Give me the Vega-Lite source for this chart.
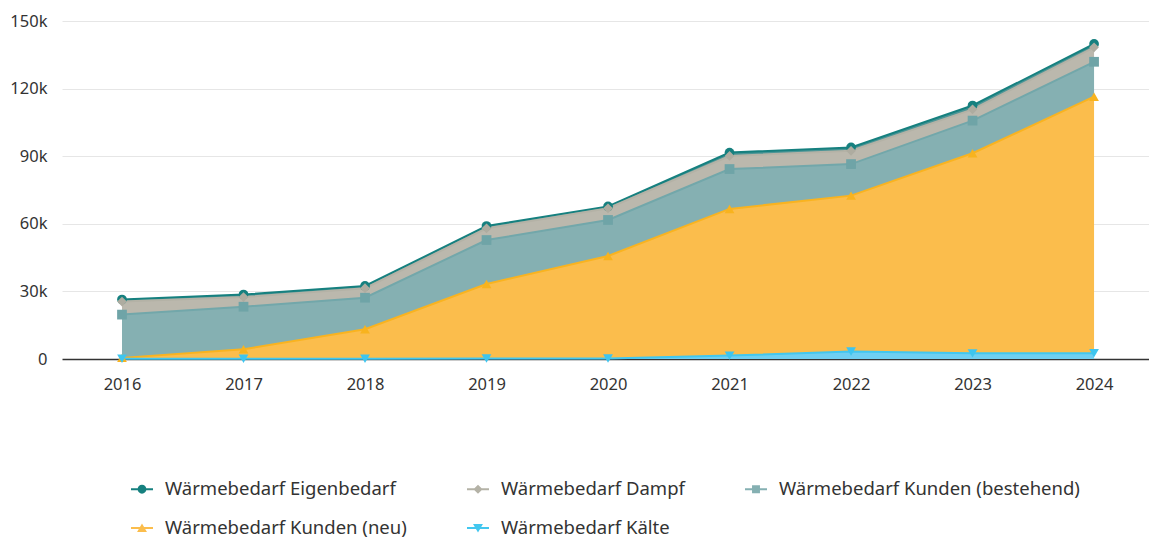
{
  "$schema": "https://vega.github.io/schema/vega-lite/v6.json",
  "width": 1087,
  "height": 338,
  "padding": {"left": 9, "top": 13, "right": 0, "bottom": 0},
  "config": {
    "view": {"stroke": null},
    "font": "Noto Sans",
    "axis": {"labelFont": "Noto Sans", "labelFontSize": 16.5, "labelColor": "#333333"},
    "legend": {"labelFont": "Noto Sans", "labelFontSize": 18.5, "labelColor": "#333333", "layout": {"bottom": {"anchor": "middle"}}}
  },
  "data": {
    "values": [
      {"year": "2016", "series": "Wärmebedarf Eigenbedarf", "rank": 5, "value": 900},
      {"year": "2016", "series": "Wärmebedarf Dampf", "rank": 4, "value": 5800},
      {"year": "2016", "series": "Wärmebedarf Kunden (bestehend)", "rank": 3, "value": 19200},
      {"year": "2016", "series": "Wärmebedarf Kunden (neu)", "rank": 2, "value": 400},
      {"year": "2016", "series": "Wärmebedarf Kälte", "rank": 1, "value": 100},
      {"year": "2017", "series": "Wärmebedarf Eigenbedarf", "rank": 5, "value": 1100},
      {"year": "2017", "series": "Wärmebedarf Dampf", "rank": 4, "value": 4300},
      {"year": "2017", "series": "Wärmebedarf Kunden (bestehend)", "rank": 3, "value": 18900},
      {"year": "2017", "series": "Wärmebedarf Kunden (neu)", "rank": 2, "value": 4200},
      {"year": "2017", "series": "Wärmebedarf Kälte", "rank": 1, "value": 100},
      {"year": "2018", "series": "Wärmebedarf Eigenbedarf", "rank": 5, "value": 1000},
      {"year": "2018", "series": "Wärmebedarf Dampf", "rank": 4, "value": 4200},
      {"year": "2018", "series": "Wärmebedarf Kunden (bestehend)", "rank": 3, "value": 14000},
      {"year": "2018", "series": "Wärmebedarf Kunden (neu)", "rank": 2, "value": 13100},
      {"year": "2018", "series": "Wärmebedarf Kälte", "rank": 1, "value": 100},
      {"year": "2019", "series": "Wärmebedarf Eigenbedarf", "rank": 5, "value": 1000},
      {"year": "2019", "series": "Wärmebedarf Dampf", "rank": 4, "value": 5200},
      {"year": "2019", "series": "Wärmebedarf Kunden (bestehend)", "rank": 3, "value": 19500},
      {"year": "2019", "series": "Wärmebedarf Kunden (neu)", "rank": 2, "value": 33100},
      {"year": "2019", "series": "Wärmebedarf Kälte", "rank": 1, "value": 200},
      {"year": "2020", "series": "Wärmebedarf Eigenbedarf", "rank": 5, "value": 800},
      {"year": "2020", "series": "Wärmebedarf Dampf", "rank": 4, "value": 5200},
      {"year": "2020", "series": "Wärmebedarf Kunden (bestehend)", "rank": 3, "value": 16000},
      {"year": "2020", "series": "Wärmebedarf Kunden (neu)", "rank": 2, "value": 45500},
      {"year": "2020", "series": "Wärmebedarf Kälte", "rank": 1, "value": 200},
      {"year": "2021", "series": "Wärmebedarf Eigenbedarf", "rank": 5, "value": 1500},
      {"year": "2021", "series": "Wärmebedarf Dampf", "rank": 4, "value": 5800},
      {"year": "2021", "series": "Wärmebedarf Kunden (bestehend)", "rank": 3, "value": 17700},
      {"year": "2021", "series": "Wärmebedarf Kunden (neu)", "rank": 2, "value": 65100},
      {"year": "2021", "series": "Wärmebedarf Kälte", "rank": 1, "value": 1500},
      {"year": "2022", "series": "Wärmebedarf Eigenbedarf", "rank": 5, "value": 1500},
      {"year": "2022", "series": "Wärmebedarf Dampf", "rank": 4, "value": 5900},
      {"year": "2022", "series": "Wärmebedarf Kunden (bestehend)", "rank": 3, "value": 14000},
      {"year": "2022", "series": "Wärmebedarf Kunden (neu)", "rank": 2, "value": 69200},
      {"year": "2022", "series": "Wärmebedarf Kälte", "rank": 1, "value": 3300},
      {"year": "2023", "series": "Wärmebedarf Eigenbedarf", "rank": 5, "value": 1700},
      {"year": "2023", "series": "Wärmebedarf Dampf", "rank": 4, "value": 5000},
      {"year": "2023", "series": "Wärmebedarf Kunden (bestehend)", "rank": 3, "value": 14500},
      {"year": "2023", "series": "Wärmebedarf Kunden (neu)", "rank": 2, "value": 88800},
      {"year": "2023", "series": "Wärmebedarf Kälte", "rank": 1, "value": 2500},
      {"year": "2024", "series": "Wärmebedarf Eigenbedarf", "rank": 5, "value": 1500},
      {"year": "2024", "series": "Wärmebedarf Dampf", "rank": 4, "value": 6400},
      {"year": "2024", "series": "Wärmebedarf Kunden (bestehend)", "rank": 3, "value": 15500},
      {"year": "2024", "series": "Wärmebedarf Kunden (neu)", "rank": 2, "value": 113800},
      {"year": "2024", "series": "Wärmebedarf Kälte", "rank": 1, "value": 2600}
    ]
  },
  "encoding": {
    "x": {
      "field": "year", "type": "ordinal", "title": null,
      "scale": {"type": "point", "padding": 0.473, "align": 0.522},
      "axis": {"labelAngle": 0, "ticks": false, "domain": false, "grid": false, "labelPadding": 17}
    },
    "y": {
      "field": "value", "type": "quantitative", "title": null, "stack": "zero",
      "scale": {"domain": [0, 150000], "nice": false},
      "axis": {
        "values": [0, 30000, 60000, 90000, 120000, 150000],
        "labelExpr": "datum.value === 0 ? '0' : format(datum.value, '~s')",
        "ticks": false, "domain": false, "labelPadding": 15,
        "gridColor": {"condition": {"test": "datum.value === 0", "value": "#333333"}, "value": "#e6e6e6"},
        "gridWidth": {"condition": {"test": "datum.value === 0", "value": 1.5}, "value": 1}
      }
    },
    "order": {"field": "rank", "type": "quantitative"}
  },
  "layer": [
    {
      "mark": {"type": "area", "opacity": 1},
      "encoding": {
        "fill": {
          "field": "series", "type": "nominal", "legend": null,
          "scale": {
            "domain": ["Wärmebedarf Eigenbedarf", "Wärmebedarf Dampf", "Wärmebedarf Kunden (bestehend)", "Wärmebedarf Kunden (neu)", "Wärmebedarf Kälte"],
            "range": ["#4b9596", "#bbb8ad", "#85b0b2", "#fbbd4c", "#6fcff2"]
          }
        }
      }
    },
    {
      "mark": {"type": "line", "strokeWidth": 2},
      "encoding": {
        "stroke": {
          "field": "series", "type": "nominal", "legend": null,
          "scale": {
            "domain": ["Wärmebedarf Eigenbedarf", "Wärmebedarf Dampf", "Wärmebedarf Kunden (bestehend)", "Wärmebedarf Kunden (neu)", "Wärmebedarf Kälte"],
            "range": ["#16807f", "#b4b2a6", "#72a7aa", "#f9b320", "#42c7ef"]
          }
        }
      }
    },
    {
      "mark": {"type": "point", "filled": true, "opacity": 1, "size": 95},
      "encoding": {
        "color": {
          "field": "series", "type": "nominal", "legend": null,
          "scale": {
            "domain": ["Wärmebedarf Eigenbedarf", "Wärmebedarf Dampf", "Wärmebedarf Kunden (bestehend)", "Wärmebedarf Kunden (neu)", "Wärmebedarf Kälte"],
            "range": ["#16807f", "#aeaca0", "#6fa4a7", "#f8b31e", "#3ec5ef"]
          }
        },
        "shape": {
          "field": "series", "type": "nominal", "legend": null,
          "scale": {
            "domain": ["Wärmebedarf Eigenbedarf", "Wärmebedarf Dampf", "Wärmebedarf Kunden (bestehend)", "Wärmebedarf Kunden (neu)", "Wärmebedarf Kälte"],
            "range": ["circle", "diamond", "square", "triangle-up", "triangle-down"]
          }
        }
      }
    },
    {
      "transform": [{"filter": "datum.rank > 99"}],
      "mark": {"type": "point", "filled": true, "opacity": 1, "size": 484},
      "encoding": {
        "fill": {
          "field": "series", "type": "nominal",
          "scale": {
            "domain": ["Wärmebedarf Eigenbedarf", "Wärmebedarf Dampf", "Wärmebedarf Kunden (bestehend)", "Wärmebedarf Kunden (neu)", "Wärmebedarf Kälte"],
            "range": ["#16807f", "#b4b2a6", "#85b0b2", "#fbbd4c", "#42c7ef"]
          },
          "legend": {
            "title": null, "orient": "bottom", "direction": "horizontal", "columns": 3,
            "symbolOpacity": 1, "symbolStrokeWidth": 0, "offset": 85, "labelLimit": 0,
            "columnPadding": 60, "rowPadding": 18, "labelOffset": 12, "symbolSize": 484
          }
        },
        "shape": {
          "field": "series", "type": "nominal",
          "scale": {
            "domain": ["Wärmebedarf Eigenbedarf", "Wärmebedarf Dampf", "Wärmebedarf Kunden (bestehend)", "Wärmebedarf Kunden (neu)", "Wärmebedarf Kälte"],
            "range": [
              "M-1,-0.09H1V0.09H-1Z M-0.4,0A0.4,0.4 0 1,1 0.4,0A0.4,0.4 0 1,1 -0.4,0Z",
              "M-1,-0.09H1V0.09H-1Z M0,-0.42L0.42,0L0,0.42L-0.42,0Z",
              "M-1,-0.09H1V0.09H-1Z M-0.36,-0.36H0.36V0.36H-0.36Z",
              "M-1,-0.09H1V0.09H-1Z M0,-0.42L0.45,0.36L-0.45,0.36Z",
              "M-1,-0.09H1V0.09H-1Z M-0.45,-0.36L0.45,-0.36L0,0.42Z"
            ]
          }
        }
      }
    }
  ],
  "resolve": {"scale": {"fill": "independent", "shape": "independent"}}
}
